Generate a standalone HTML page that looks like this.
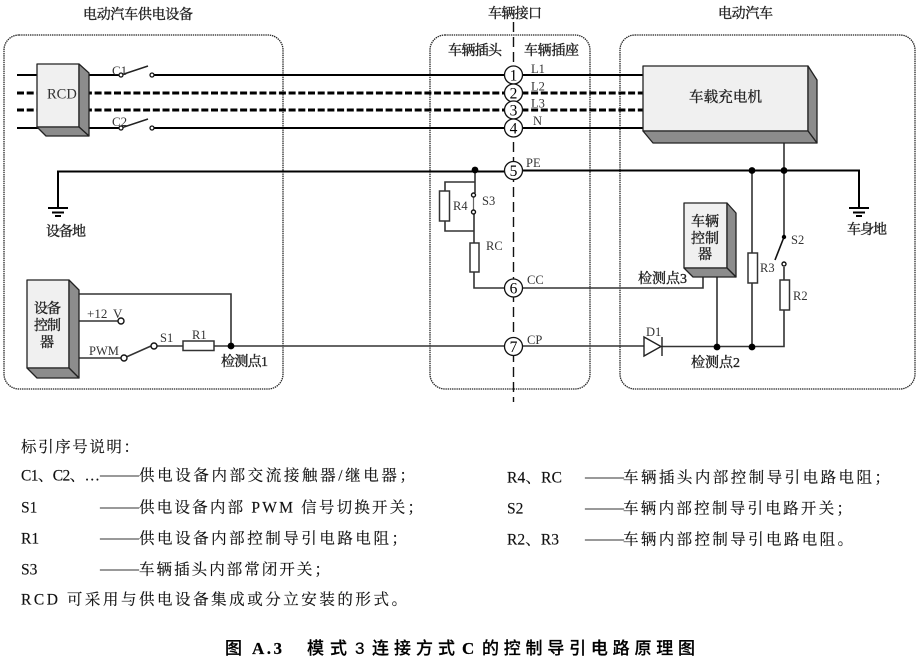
<!DOCTYPE html>
<html><head><meta charset="utf-8"><style>
html,body{margin:0;padding:0;background:#fff}
svg{display:block;filter:blur(.3px)}
.l{font-family:"Liberation Serif","Noto Serif CJK SC",serif;fill:#333}
.c{font-family:"Liberation Serif","Noto Serif CJK SC",serif;fill:#222;font-size:14px;stroke:#222;stroke-width:.35}
.t{font-family:"Liberation Serif","Noto Serif CJK SC",serif;fill:#111;font-size:15.500px;stroke:#111;stroke-width:.15}
.d{font-family:"Liberation Serif",serif;fill:#333;font-size:19.500px}
.h{font-family:"Liberation Sans","Noto Sans CJK SC",sans-serif;fill:#000;font-size:17px;font-weight:500;stroke:#000;stroke-width:.2}
</style></head><body>
<svg width="919" height="665" viewBox="0 0 919 665" xmlns="http://www.w3.org/2000/svg">
<!-- dotted boxes -->
<g fill="none" stroke="#222" stroke-width="1.300" stroke-dasharray="1.400 .8">
<rect x="4" y="35" width="279" height="354" rx="15"/>
<rect x="430" y="35" width="160" height="354" rx="15"/>
<rect x="620" y="35" width="295" height="354" rx="15"/>
</g>
<line x1="513.500" y1="22" x2="513.500" y2="402" stroke="#111" stroke-width="1.400" stroke-dasharray="10 5"/>
<!-- power lines -->
<g fill="none" stroke="#000">
<path d="M17 75H121M152 75H643M17 128H121M152 128H643" stroke-width="2"/>
<path d="M17 93H643M17 110H643" stroke-width="3" stroke-dasharray="7 2.700"/>
<path d="M58 209V171.500H505M522 170.500H859V208" stroke-width="2"/>
<path d="M48 208H68M52 212.500H64M55 216H61M849 208H869M853 212.500H865M856 216H862" stroke-width="2"/>
</g>
<!-- switches -->
<path d="M121 75L148 66M121 128L148 119" fill="none" stroke="#222" stroke-width="1.500"/>
<g fill="#fff" stroke="#111" stroke-width="1.300">
<circle cx="121" cy="75" r="2"/><circle cx="152" cy="75" r="2"/>
<circle cx="121" cy="128" r="2"/><circle cx="152" cy="128" r="2"/>
</g>
<!-- signal lines -->
<g fill="none" stroke="#333" stroke-width="1.600">
<path d="M79 294H231V346"/>
<path d="M79 321H118"/>
<path d="M79 358H121M124 358L151 346M157 346H183M214 346H504M523 346H644M662 346.500H784V310"/>
<path d="M475 170V193M474 214V243M474 272V288H504M523 288H703V277"/>
<path d="M445 191V182H475M445 221V231H474"/>
<path d="M717 277V347M752 170V253M752 283V347"/>
<path d="M784 143V237M784 267V280"/>
<path d="M784 237L775 260" stroke="#111"/>
<path d="M473.500 195V212" stroke="#666" stroke-width="1.200"/>
</g>
<!-- resistors -->
<g fill="#fff" stroke="#333" stroke-width="1.500">
<rect x="183" y="341" width="31" height="9.500"/>
<rect x="439.500" y="191" width="10" height="30"/>
<rect x="470" y="243" width="9" height="29"/>
<rect x="748" y="253" width="9.500" height="30"/>
<rect x="780" y="280" width="9.500" height="30"/>
</g>
<!-- contacts -->
<g fill="#fff" stroke="#111" stroke-width="1.400">
<circle cx="121" cy="321" r="3"/><circle cx="124" cy="358" r="3"/><circle cx="154" cy="346" r="3"/>
<circle cx="473.500" cy="195" r="2"/><circle cx="473.500" cy="212" r="2"/><circle cx="784" cy="264" r="2"/>
</g>
<g fill="#000">
<circle cx="231" cy="346" r="3.400"/><circle cx="475" cy="170" r="3.400"/>
<circle cx="752" cy="170.500" r="3.400"/><circle cx="784" cy="170.500" r="3.400"/>
<circle cx="717" cy="347" r="3.400"/><circle cx="752" cy="347" r="3.400"/>
<circle cx="784" cy="237" r="2.200"/>
</g>
<!-- diode -->
<path d="M644 337V356L661 346.500Z" fill="#fff" stroke="#222" stroke-width="1.400"/>
<path d="M662 337V356" stroke="#222" stroke-width="1.400"/>
<!-- 3D blocks -->
<g stroke="#222" stroke-width="1.300" stroke-linejoin="round">
<path d="M37 64H79V127H37Z" fill="#f0f0f0"/>
<path d="M79 64L89 73V136L79 127Z" fill="#8c8c8c"/>
<path d="M37 127H79L89 136H46Z" fill="#8c8c8c"/>
<path d="M27 280H69V368H27Z" fill="#f0f0f0"/>
<path d="M69 280L79 290V378L69 368Z" fill="#8c8c8c"/>
<path d="M27 368H69L79 378H37Z" fill="#8c8c8c"/>
<path d="M643 66H808V131H643Z" fill="#f0f0f0"/>
<path d="M808 66L817 80V143L808 131Z" fill="#8c8c8c"/>
<path d="M643 131H808L817 143H653Z" fill="#8c8c8c"/>
<path d="M684 203H727V268H684Z" fill="#f0f0f0"/>
<path d="M727 203L736 213V277L727 268Z" fill="#8c8c8c"/>
<path d="M684 268H727L736 277H693Z" fill="#8c8c8c"/>
</g>
<!-- numbered circles -->
<g fill="#fff" stroke="#111" stroke-width="1.300">
<circle cx="513.500" cy="75" r="9"/><circle cx="513.500" cy="93" r="9"/><circle cx="513.500" cy="110" r="9"/>
<circle cx="513.500" cy="128" r="9"/><circle cx="513.500" cy="170.500" r="9"/><circle cx="513.500" cy="288" r="9"/><circle cx="513.500" cy="346.500" r="9"/>
</g>
<g class="l" font-size="15.500" text-anchor="middle" style="fill:#000">
<text x="513.500" y="80.500">1</text><text x="513.500" y="98.500">2</text><text x="513.500" y="115.500">3</text><text x="513.500" y="133.500">4</text><text x="513.500" y="176">5</text><text x="513.500" y="293.500">6</text><text x="513.500" y="352">7</text>
</g>
<!-- latin labels -->
<g class="l" font-size="12.500">
<text x="112" y="75" font-size="13">C1</text><text x="112" y="126" font-size="13">C2</text>
<text x="531" y="73">L1</text><text x="531" y="90.500">L2</text><text x="531" y="107.500">L3</text><text x="533" y="125">N</text>
<text x="526" y="167">PE</text><text x="527" y="284">CC</text><text x="527" y="344">CP</text>
<text x="482" y="205">S3</text><text x="486" y="250">RC</text>
<text x="192" y="339">R1</text><text x="160" y="342">S1</text>
<text x="87" y="318" font-size="13">+12</text><text x="113" y="318" font-size="13">V</text><text x="89" y="355">PWM</text>
<text x="646" y="336">D1</text><text x="760" y="272">R3</text><text x="793" y="300">R2</text><text x="791" y="244">S2</text>
<text x="453" y="210">R4</text>
</g>
<text class="l" x="47" y="98.500" font-size="14.500">RCD</text>
<!-- CJK labels -->
<g class="c">
<text x="83" y="19" textLength="110">电动汽车供电设备</text>
<text x="488" y="18" textLength="54">车辆接口</text>
<text x="718" y="18" textLength="55">电动汽车</text>
<text x="448" y="55" textLength="54">车辆插头</text>
<text x="524" y="55" textLength="55">车辆插座</text>
<text x="689" y="102" textLength="73" font-size="14.500">车载充电机</text>
<text x="46" y="236" textLength="40">设备地</text>
<text x="847" y="234" textLength="40">车身地</text>
<text x="34" y="313" textLength="27">设备</text>
<text x="34" y="330" textLength="27">控制</text>
<text x="40" y="347">器</text>
<text x="691" y="226" textLength="28">车辆</text>
<text x="691" y="243" textLength="28">控制</text>
<text x="698" y="259">器</text>
<text x="221" y="366" textLength="47">检测点1</text>
<text x="638" y="283" textLength="49">检测点3</text>
<text x="691" y="367" textLength="49">检测点2</text>
</g>
<!-- legend -->
<g class="t">
<text x="21" y="452" textLength="118">标引序号说明：</text>
<text x="21" y="480.500" textLength="79">C1、C2、…</text>
<text x="21" y="512.500">S1</text><text x="21" y="543.500">R1</text><text x="21" y="574.500">S3</text>
<text x="139" y="480.500" textLength="276">供电设备内部交流接触器/继电器；</text>
<text x="139" y="512.500" textLength="284">供电设备内部 PWM 信号切换开关；</text>
<text x="139" y="543.500" textLength="268">供电设备内部控制导引电路电阻；</text>
<text x="139" y="574.500" textLength="191">车辆插头内部常闭开关；</text>
<text x="21" y="604.500" textLength="386">RCD 可采用与供电设备集成或分立安装的形式。</text>
<text x="507" y="482.500" textLength="55">R4、RC</text><text x="507" y="513.500">S2</text><text x="507" y="544.500" textLength="52">R2、R3</text>
<text x="623" y="482.500" textLength="267">车辆插头内部控制导引电路电阻；</text>
<text x="623" y="513.500" textLength="229">车辆内部控制导引电路开关；</text>
<text x="623" y="544.500" textLength="230">车辆内部控制导引电路电阻。</text>
</g>
<g class="d">
<text x="100" y="480.500">——</text><text x="100" y="512.500">——</text><text x="100" y="543.500">——</text><text x="100" y="574.500">——</text>
<text x="585" y="482.500">——</text><text x="585" y="513.500">——</text><text x="585" y="544.500">——</text>
</g>
<!-- title -->
<g class="h">
<text x="225" y="654">图</text>
<text x="252" y="654" textLength="30" style="font-family:'Liberation Serif',serif;font-weight:700">A.3</text>
<text x="307" y="654" textLength="40">模式</text>
<text x="355" y="654">3</text>
<text x="372" y="654" textLength="83">连接方式</text>
<text x="462" y="654" style="font-family:'Liberation Serif',serif;font-weight:700">C</text>
<text x="482" y="654" textLength="213">的控制导引电路原理图</text>
</g>
</svg>
</body></html>
